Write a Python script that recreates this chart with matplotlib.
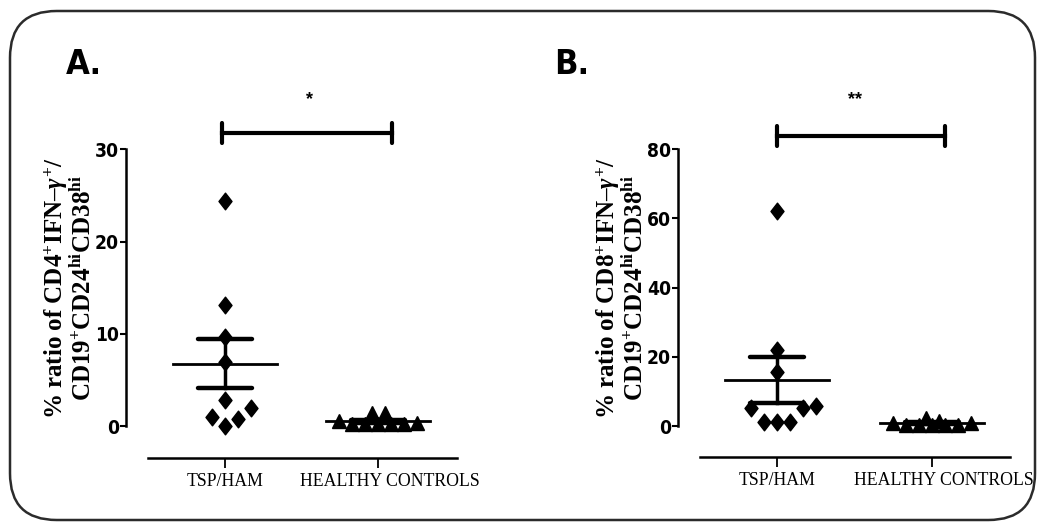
import matplotlib
matplotlib.use("Agg")
import matplotlib.pyplot as plt
import numpy as np
from matplotlib.patches import FancyBboxPatch
from matplotlib.path import Path
from matplotlib import font_manager
from matplotlib.transforms import ScaledTranslation

# ---------------- data ----------------
groups = ["TSP/HAM", "HEALTHY CONTROLS"]

a_tsp = [24.4, 13.1, 9.6, 6.9, 2.8, 2.0, 1.0, 0.8, 0.0]
a_hc = [0.55, 0.2, 0.2, 0.2, 0.2, 0.2, 0.3, 1.4, 1.4]
b_tsp = [62.3, 22.0, 15.7, 5.1, 5.2, 5.8, 1.25, 1.25, 1.25]
b_hc = [0.8, 0.3, 0.3, 0.3, 0.3, 0.3, 0.9, 2.4, 1.5]

# horizontal spread of overlapping points (in marker slots)
a_tsp_slots = [0, 0, 0, 0, 0, 2, -1, 1, 0]
a_hc_slots = [-3, -2, -1, 0, 1, 2, 3, -0.5, 0.5]
b_tsp_slots = [0, 0, 0, -2, 2, 3, -1, 0, 1]
b_hc_slots = [-3, -2, -1, 0, 1, 2, 3, -0.5, 0.5]

a_yticks = [0, 10, 20, 30]
b_yticks = [0, 20, 40, 60, 80]
a_sig = "*"
b_sig = "**"
a_ylabel = "% ratio of CD4$^{+}$IFN\u2013$\\gamma^{+}$/\nCD19$^{+}$CD24$^{\\mathbf{hi}}$CD38$^{\\mathbf{hi}}$"
b_ylabel = "% ratio of CD8$^{+}$IFN\u2013$\\gamma^{+}$/\nCD19$^{+}$CD24$^{\\mathbf{hi}}$CD38$^{\\mathbf{hi}}$"

# ---------------- fonts ----------------
entries = font_manager.fontManager.ttflist
names = {f.name for f in entries}
if "Liberation Sans Narrow" in names:
    narrow_kw = dict(fontfamily="Liberation Sans Narrow", fontweight="bold")
    narrow_scale = 1.0
else:
    cond = [f for f in entries if f.name == "DejaVu Sans" and "Condensed" in f.fname]
    if cond:
        narrow_kw = dict(fontfamily="DejaVu Sans", fontstretch="condensed",
                         fontweight="bold")
        narrow_scale = 0.95
    else:
        narrow_kw = dict(fontfamily="Liberation Sans", fontweight="bold")
        narrow_scale = 0.85
serif = "Liberation Serif"
plt.rcParams["mathtext.fontset"] = "custom"
plt.rcParams["mathtext.rm"] = "Liberation Serif:bold"
plt.rcParams["mathtext.bf"] = "Liberation Serif:bold"
plt.rcParams["mathtext.it"] = "Liberation Serif:italic:bold"

W, H = 1037, 522
fig = plt.figure(figsize=(W / 100, H / 100), dpi=100)

# rounded frame
frame = FancyBboxPatch((10 / W, 1 - 520 / H), (1035 - 10) / W, (520 - 11) / H,
                       boxstyle="round,pad=0,rounding_size=0.045",
                       transform=fig.transFigure, fill=False,
                       edgecolor="#2b2b2b", linewidth=1.8,
                       mutation_aspect=W / H)
fig.patches.append(frame)

diamond = Path([(0, 1), (0.78, 0), (0, -1), (-0.78, 0), (0, 1)],
               [Path.MOVETO, Path.LINETO, Path.LINETO, Path.LINETO, Path.CLOSEPOLY])


def panel(yaxis_px, x_start_px, x_end_px, tsp_px, hc_px, ymax, y0_px, ytop_px, xaxis_px,
          tsp, hc, tsp_slots, hc_slots, yticks, sig, sig_x_px, bar_x0_px, bar_x1_px,
          bar_y_px, ylabel, ylabel_x_px, letter, letter_x_px):
    ppu_x = hc_px - tsp_px
    ppu_y = (y0_px - ytop_px) / ymax
    xl = 1 - (tsp_px - yaxis_px) / ppu_x
    xr = 1 + (x_end_px - tsp_px) / ppu_x
    yb = -(xaxis_px - y0_px) / ppu_y
    ax = fig.add_axes([yaxis_px / W, 1 - xaxis_px / H,
                       (x_end_px - yaxis_px) / W, (xaxis_px - ytop_px) / H])
    ax.set_xlim(xl, xr)
    ax.set_ylim(yb, ymax)
    ax.patch.set_alpha(0)
    for s in ["top", "right"]:
        ax.spines[s].set_visible(False)
    ax.spines["left"].set_bounds(0, ymax)
    ax.spines["bottom"].set_bounds(1 - (tsp_px - x_start_px) / ppu_x, xr)
    ax.spines["left"].set_linewidth(1.8)
    ax.spines["bottom"].set_linewidth(1.8)
    ax.set_yticks(yticks)
    ax.set_yticklabels([str(t) for t in yticks], fontsize=14.5 * narrow_scale,
                       **narrow_kw)
    ax.tick_params(axis="y", direction="out", length=4, width=1.5, pad=1)
    ax.set_xticks([1, 2])
    ax.set_xticklabels(groups, fontfamily=serif, fontsize=12.8, color="black")
    ax.tick_params(axis="x", direction="out", length=7, width=1.3, pad=4)
    lab = ax.get_xticklabels()[1]
    lab.set_transform(lab.get_transform() + ScaledTranslation(0.12, 0, fig.dpi_scale_trans))

    slot = 13.0 / ppu_x
    xs_t = [1 + s * slot for s in tsp_slots]
    xs_h = [2 + s * slot for s in hc_slots]
    ax.plot(xs_t, tsp, linestyle="none", marker=diamond, markersize=12,
            color="black", clip_on=False, zorder=3)
    ax.plot(xs_h, hc, linestyle="none", marker="^", markersize=9.5,
            color="black", clip_on=False, zorder=3)

    for gx, vals in [(1, tsp), (2, hc)]:
        v = np.asarray(vals, float)
        m = v.mean()
        sem = v.std(ddof=1) / np.sqrt(len(v))
        mh = 52 / ppu_x
        ch = 27 / ppu_x
        ax.plot([gx - mh, gx + mh], [m, m], color="black", lw=2.0,
                zorder=4, clip_on=False)
        ax.plot([gx, gx], [m - sem, m + sem], color="black", lw=2.5, zorder=4)
        for yy in (m - sem, m + sem):
            ax.plot([gx - ch, gx + ch], [yy, yy], color="black", lw=3.2,
                    solid_capstyle="round", zorder=4, clip_on=False)

    # significance bracket
    bx0 = 1 + (bar_x0_px - tsp_px) / ppu_x
    bx1 = 1 + (bar_x1_px - tsp_px) / ppu_x
    by = (y0_px - bar_y_px) / ppu_y
    ch = 10 / ppu_y
    ax.plot([bx0, bx1], [by, by], color="black", lw=3.0, clip_on=False)
    for bx in (bx0, bx1):
        ax.plot([bx, bx], [by - ch, by + ch], color="black", lw=3.0,
                solid_capstyle="round", clip_on=False)
    sx = 1 + (sig_x_px - tsp_px) / ppu_x
    sy = (y0_px - 100) / ppu_y
    ax.text(sx, sy, sig, ha="center", va="center", fontsize=13,
            fontweight="bold", fontfamily="Liberation Sans", clip_on=False)

    fig.text(ylabel_x_px / W, 1 - (y0_px + ytop_px) / 2 / H, ylabel,
             rotation=90, ha="center", va="center", multialignment="center",
             fontfamily=serif, fontweight="bold", fontsize=18, linespacing=1.0)
    fig.text(letter_x_px / W, 1 - 64 / H, letter, ha="left", va="center",
             fontsize=26 * narrow_scale, **narrow_kw)
    return ax


panel(126, 148, 457, 225, 378, 30, 426, 149.3, 458,
      a_tsp, a_hc, a_tsp_slots, a_hc_slots, a_yticks, a_sig, 310, 222, 392, 133.3,
      a_ylabel, 69, "A.", 66)
panel(678, 700, 1010, 777, 932, 80, 426, 149.3, 457,
      b_tsp, b_hc, b_tsp_slots, b_hc_slots, b_yticks, b_sig, 855, 777, 945, 136,
      b_ylabel, 621, "B.", 554)

fig.savefig("out.png", dpi=100)
